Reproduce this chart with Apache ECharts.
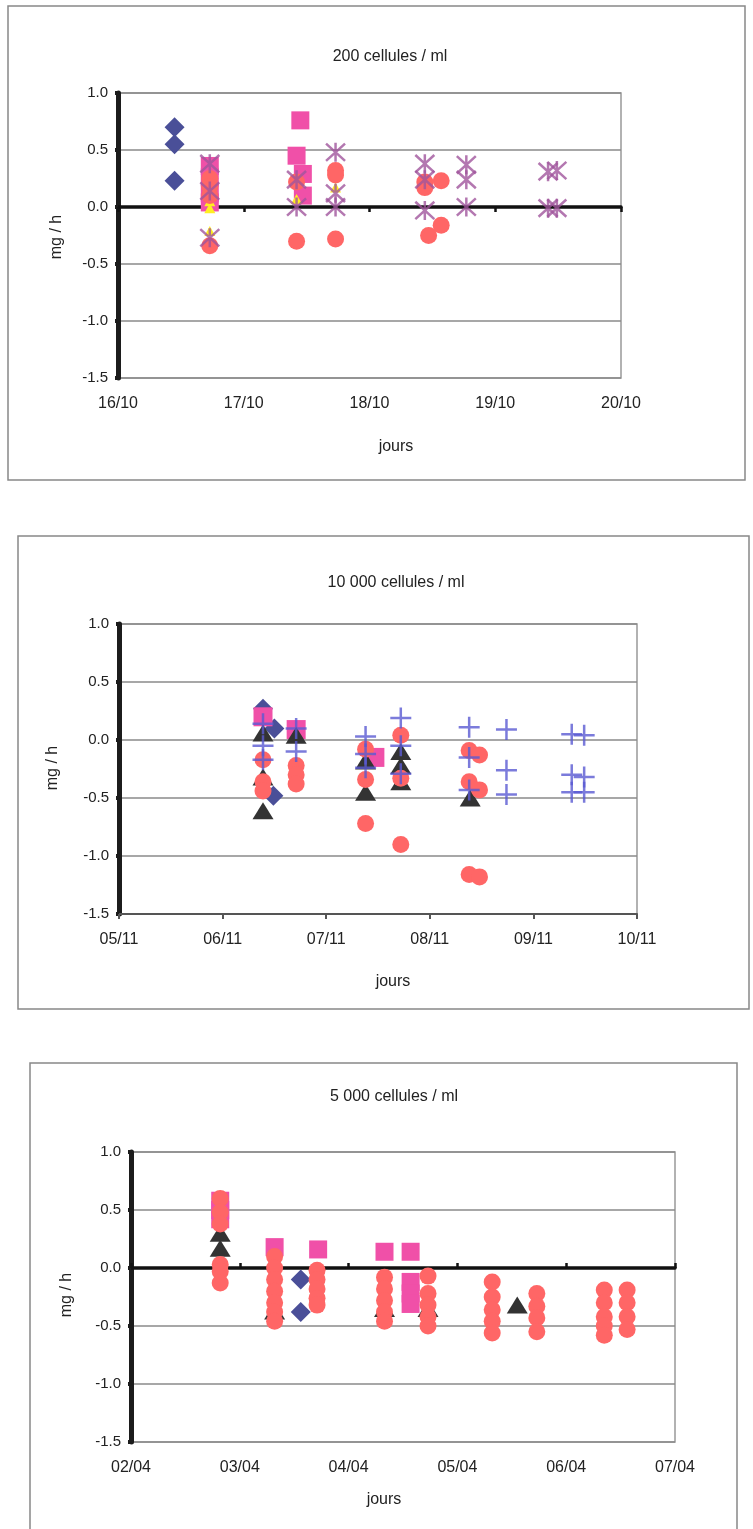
<!DOCTYPE html>
<html>
<head>
<meta charset="utf-8">
<script src="https://cdn.jsdelivr.net/npm/echarts@6/dist/echarts.min.js"></script>
<style>
html,body{margin:0;padding:0;background:#fff;}
#c{width:753px;height:1529px;}
</style>
</head>
<body>
<div id="c"></div>
<script>
// ---------- DATA ----------
const titles = ['200 cellules / ml', '10 000 cellules / ml', '5 000 cellules / ml'];
const xLabels1 = ['16/10', '17/10', '18/10', '19/10', '20/10'];
const xLabels2 = ['05/11', '06/11', '07/11', '08/11', '09/11', '10/11'];
const xLabels3 = ['02/04', '03/04', '04/04', '05/04', '06/04', '07/04'];
const yTicks = [-1.5, -1.0, -0.5, 0.0, 0.5, 1.0];
const xName = 'jours';
const yName = 'mg / h';

// chart 1 : x = days after 16/10
const c1Diamond = [[0.45, 0.70], [0.45, 0.55], [0.45, 0.23]];
const c1Square = [[0.73, 0.36], [0.73, 0.26], [0.73, 0.12], [0.73, 0.04], [1.45, 0.76], [1.42, 0.45], [1.47, 0.29], [1.47, 0.10]];
const c1Triangle = [[0.73, 0.05], [0.73, -0.01], [0.73, -0.21], [1.42, 0.07], [1.73, 0.17]];
const c1Circle = [[0.73, 0.25], [0.73, 0.18], [0.73, 0.10], [0.73, -0.34], [1.42, 0.22], [1.42, -0.30], [1.73, 0.32], [1.73, 0.28], [1.73, -0.28], [2.44, 0.22], [2.44, 0.17], [2.57, 0.23], [2.47, -0.25], [2.57, -0.16]];
const c1Asterisk = [[0.73, 0.38], [0.73, 0.14], [0.73, -0.27], [1.42, 0.24], [1.42, 0.0], [1.73, 0.48], [1.73, 0.12], [1.73, 0.0], [2.44, 0.38], [2.44, 0.24], [2.44, -0.03], [2.77, 0.37], [2.77, 0.24], [2.77, 0.0], [3.42, 0.31], [3.49, 0.32], [3.42, -0.01], [3.49, -0.01]];

// chart 2 : x = days after 05/11
const c2Diamond = [[1.39, 0.27], [1.50, 0.10], [1.49, -0.48]];
const c2Square = [[1.39, 0.20], [1.71, 0.09], [2.47, -0.15]];
const c2Triangle = [[1.39, 0.06], [1.39, -0.32], [1.39, -0.61], [1.71, 0.04], [2.38, -0.18], [2.38, -0.45], [2.72, -0.10], [2.72, -0.22], [2.72, -0.36], [3.39, -0.50]];
const c2Circle = [[1.39, -0.17], [1.39, -0.36], [1.39, -0.44], [1.71, -0.22], [1.71, -0.30], [1.71, -0.38], [2.38, -0.08], [2.38, -0.34], [2.38, -0.72], [2.72, 0.04], [2.72, -0.33], [2.72, -0.90], [3.38, -0.09], [3.48, -0.13], [3.38, -0.36], [3.48, -0.43], [3.38, -1.16], [3.48, -1.18]];
const c2Plus = [[1.39, 0.14], [1.39, -0.05], [1.39, -0.17], [1.71, 0.10], [1.71, -0.10], [2.38, 0.03], [2.38, -0.12], [2.38, -0.24], [2.72, 0.19], [2.72, -0.05], [2.72, -0.29], [3.38, 0.11], [3.38, -0.15], [3.38, -0.43], [3.74, 0.09], [3.74, -0.26], [3.74, -0.47], [4.37, 0.05], [4.49, 0.04], [4.37, -0.30], [4.49, -0.32], [4.37, -0.45], [4.49, -0.45]];

// chart 3 : x = days after 02/04
const c3Diamond = [[1.56, -0.10], [1.56, -0.38]];
const c3Square = [[0.82, 0.58], [0.82, 0.50], [0.82, 0.42], [1.32, 0.18], [1.72, 0.16], [2.33, 0.14], [2.57, 0.14], [2.57, -0.12], [2.57, -0.22], [2.57, -0.31]];
const c3Triangle = [[0.82, 0.30], [0.82, 0.17], [1.32, -0.37], [2.33, -0.35], [2.73, -0.35], [3.55, -0.32]];
const c3Circle = [[0.82, 0.60], [0.82, 0.48], [0.82, 0.38], [0.82, 0.03], [0.82, -0.03], [0.82, -0.13], [1.32, 0.10], [1.32, 0.0], [1.32, -0.10], [1.32, -0.20], [1.32, -0.30], [1.32, -0.38], [1.32, -0.46], [1.71, -0.02], [1.71, -0.10], [1.71, -0.18], [1.71, -0.26], [1.71, -0.32], [2.33, -0.08], [2.33, -0.18], [2.33, -0.28], [2.33, -0.38], [2.33, -0.46], [2.73, -0.07], [2.73, -0.22], [2.73, -0.32], [2.73, -0.42], [2.73, -0.50], [3.32, -0.12], [3.32, -0.25], [3.32, -0.36], [3.32, -0.46], [3.32, -0.56], [3.73, -0.22], [3.73, -0.33], [3.73, -0.43], [3.73, -0.55], [4.35, -0.19], [4.35, -0.30], [4.35, -0.42], [4.35, -0.50], [4.35, -0.58], [4.56, -0.19], [4.56, -0.30], [4.56, -0.42], [4.56, -0.53]];

// ---------- STYLE ----------
const FONT = 'Liberation Sans, Arial, sans-serif';
const TXT = '#222';
const COL = {diamond: '#4a4f98', square: '#f050a8', yellow: '#ffee22', circle: '#ff6666', asterisk: '#a0559c', triangle: '#333333', plus: '#5a5ad2'};
const ASTERISK = 'path://M0 0L20 20M20 0L0 20M10 -1L10 21';
const PLUS = 'path://M10 0L10 20M0 10L20 10';

const grids = [
  {left: 118, top: 93, width: 503, height: 285},
  {left: 119, top: 624, width: 518, height: 290},
  {left: 131, top: 1152, width: 544, height: 290}
];
const xLabelSets = [xLabels1, xLabels2, xLabels3];
const zeroLine = [true, false, true];

const option = {
  animation: false,
  backgroundColor: '#fff',
  grid: grids.map(g => Object.assign({show: true, borderColor: '#999', borderWidth: 1.5, backgroundColor: 'transparent', containLabel: false}, g)),
  xAxis: [],
  yAxis: [],
  series: [],
  graphic: []
};

for (let i = 0; i < 3; i++) {
  const labels = xLabelSets[i];
  option.xAxis.push({
    gridIndex: i, type: 'value', min: 0, max: labels.length - 1, interval: 1, position: 'bottom',
    axisLine: {show: !zeroLine[i], onZero: false, lineStyle: {color: '#555', width: 2}},
    axisTick: {show: !zeroLine[i], length: 5, lineStyle: {color: '#555', width: 2}},
    axisLabel: {formatter: v => labels[Math.round(v)], fontFamily: FONT, fontSize: 16, color: TXT, margin: 18},
    splitLine: {show: false}
  });
  if (zeroLine[i]) {
    option.xAxis.push({
      gridIndex: i, type: 'value', min: 0, max: labels.length - 1, interval: 1, position: 'top',
      axisLine: {show: true, onZero: true, lineStyle: {color: '#111', width: 3.5}},
      axisTick: {show: true, inside: i === 0, length: 5, lineStyle: {color: '#111', width: 2.5}},
      axisLabel: {show: false},
      splitLine: {show: false}
    });
  }
  option.yAxis.push({
    gridIndex: i, type: 'value', min: yTicks[0], max: yTicks[yTicks.length - 1], interval: 0.5,
    axisLine: {show: true, onZero: false, lineStyle: {color: '#1c1c1c', width: 5}},
    axisTick: {show: true, length: 3, lineStyle: {color: '#1c1c1c', width: 4}},
    axisLabel: {formatter: v => v.toFixed(1), fontFamily: FONT, fontSize: 15, color: TXT, margin: 10},
    splitLine: {show: true, lineStyle: {color: '#8a8a8a', width: 1.5}}
  });
}
// xAxis index mapping: chart1 -> 0 (labels) & 1 (zero), chart2 -> 2, chart3 -> 3 & 4
const xIdx = [0, 2, 3];

function sc(chart, name, data, symbol, size, color, stroke) {
  const s = {
    type: 'scatter', name: name, xAxisIndex: xIdx[chart], yAxisIndex: chart,
    data: data, symbol: symbol, symbolSize: size,
    itemStyle: stroke ? {color: 'rgba(0,0,0,0)', borderColor: color, borderWidth: 2.5} : {color: color, opacity: 1},
    emphasis: {disabled: true}
  };
  option.series.push(s);
}
sc(0, 'A', c1Diamond, 'diamond', [20, 20], COL.diamond);
sc(0, 'B', c1Square, 'rect', [18, 18], COL.square);
sc(0, 'C', c1Triangle, 'triangle', [11, 10], COL.yellow);
sc(0, 'E', c1Circle, 'circle', 17, COL.circle);
sc(0, 'D', c1Asterisk, ASTERISK, [19, 19], COL.asterisk, true);

sc(1, 'A', c2Diamond, 'diamond', [20, 20], COL.diamond);
sc(1, 'B', c2Square, 'rect', [19, 19], COL.square);
sc(1, 'C', c2Triangle, 'triangle', [21, 17], COL.triangle);
sc(1, 'E', c2Circle, 'circle', 17, COL.circle);
sc(1, 'F', c2Plus, PLUS, [21, 21], COL.plus, true);

sc(2, 'A', c3Diamond, 'diamond', [20, 20], COL.diamond);
sc(2, 'B', c3Square, 'rect', [18, 18], COL.square);
sc(2, 'C', c3Triangle, 'triangle', [21, 17], COL.triangle);
sc(2, 'E', c3Circle, 'circle', 17, COL.circle);

// frames and texts
const boxes = [
  {x: 8, y: 6, width: 737, height: 474},
  {x: 18, y: 536, width: 731, height: 473},
  {x: 30, y: 1063, width: 707, height: 480}
];
boxes.forEach(b => option.graphic.push({type: 'rect', shape: b, style: {fill: 'none', stroke: '#888', lineWidth: 1.5}, silent: true}));
const titlePos = [[390, 57], [396, 583], [394, 1097]];
const xNamePos = [[396, 447], [393, 982], [384, 1500]];
const yNamePos = [[57, 237], [53, 768], [67, 1295]];
for (let i = 0; i < 3; i++) {
  option.graphic.push({type: 'text', x: titlePos[i][0], y: titlePos[i][1], style: {text: titles[i], font: '16px ' + FONT, fill: TXT, textAlign: 'center', textVerticalAlign: 'middle'}});
  option.graphic.push({type: 'text', x: xNamePos[i][0], y: xNamePos[i][1], style: {text: xName, font: '16px ' + FONT, fill: TXT, textAlign: 'center', textVerticalAlign: 'middle'}});
  option.graphic.push({type: 'text', x: yNamePos[i][0], y: yNamePos[i][1], rotation: Math.PI / 2, style: {text: yName, font: '16px ' + FONT, fill: TXT, textAlign: 'center', textVerticalAlign: 'middle'}});
}

const chart = echarts.init(document.getElementById('c'), null, {renderer: 'canvas'});
chart.setOption(option);
</script>
</body>
</html>
